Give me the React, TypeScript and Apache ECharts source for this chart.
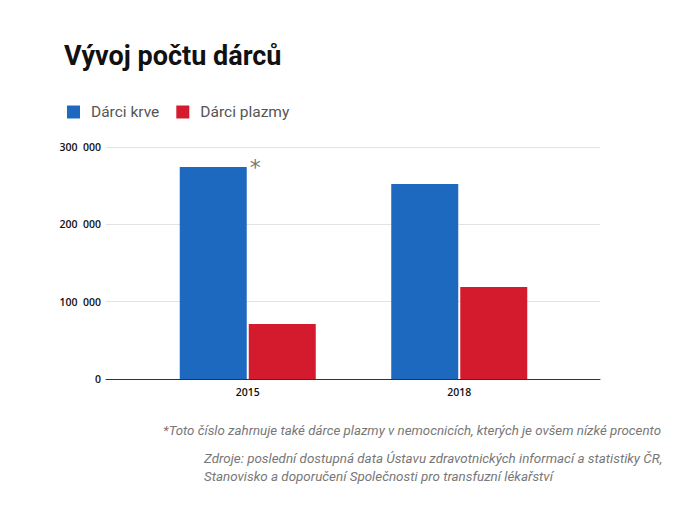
import React, { useEffect, useRef } from "react";
import * as echarts from "echarts";

const categories = ["2015", "2018"];
const seriesNames = ["Dárci krve", "Dárci plazmy"];
const krve = [274000, 252000];
const plazmy = [71000, 119000];
const yTicks = [0, 100000, 200000, 300000];
const titleText = "Vývoj počtu dárců";
const footnote = "*Toto číslo zahrnuje také dárce plazmy v nemocnicích, kterých je ovšem nízké procento";
const sources = [
  "Zdroje: poslední dostupná data Ústavu zdravotnických informací a statistiky ČR,",
  "Stanovisko a doporučení Společnosti pro transfuzní lékařství",
];

const BLUE = "#1d69c0";
const RED = "#d41b2d";

export default function App() {
  const ref = useRef<HTMLDivElement>(null);
  useEffect(() => {
    document.body.style.margin = "0";
    const chart = echarts.init(ref.current!, undefined, { renderer: "svg" });
    const fmt = (v: number) =>
      v === 0 ? "0" : String(v).replace(/\B(?=(\d{3})+(?!\d))/g, "  ");
    chart.setOption({
      animation: false,
      backgroundColor: "#ffffff",
      title: {
        text: titleText,
        left: 59,
        top: 37,
        textStyle: {
          fontFamily: "Roboto",
          fontWeight: "bold",
          fontSize: 27,
          color: "#111111",
        },
      },
      legend: {
        left: 62,
        top: 99,
        itemWidth: 13,
        itemHeight: 13,
        itemGap: 17,
        icon: "rect",
        data: seriesNames,
        textStyle: { fontFamily: "Roboto", fontSize: 15.5, color: "#555555", padding: [0, 0, 0, 6] },
      },
      grid: [
        { left: 106, right: 82, top: 147, bottom: 133 },
        { left: 142, right: 117, top: 147, bottom: 133 },
      ],
      xAxis: [
        {
          gridIndex: 0,
          type: "category",
          data: categories,
          axisLine: { show: true, lineStyle: { color: "#333333", width: 1 } },
          axisTick: { show: false },
          axisLabel: { show: false },
        },
        {
          gridIndex: 1,
          type: "category",
          data: categories,
          axisLine: { show: false },
          axisTick: { show: false },
          axisLabel: {
            fontFamily: "Open Sans",
            fontWeight: 600,
            fontSize: 10.5,
            color: "#111111",
            margin: 7,
          },
        },
      ],
      yAxis: [
        {
          gridIndex: 0,
          type: "value",
          min: yTicks[0],
          max: yTicks[yTicks.length - 1],
          interval: yTicks[1] - yTicks[0],
          axisLine: { show: false },
          axisTick: { show: false },
          splitLine: { lineStyle: { color: "#e3e3e3" } },
          axisLabel: {
            formatter: fmt,
            fontFamily: "Open Sans",
            fontWeight: 600,
            fontSize: 10.5,
            color: "#111111",
            margin: 5,
          },
        },
        {
          gridIndex: 1,
          type: "value",
          min: yTicks[0],
          max: yTicks[yTicks.length - 1],
          interval: yTicks[1] - yTicks[0],
          show: false,
          splitLine: { show: false },
        },
      ],
      series: [
        {
          name: seriesNames[0],
          type: "bar",
          xAxisIndex: 1,
          yAxisIndex: 1,
          barWidth: 67,
          barGap: "3%",
          itemStyle: { color: BLUE },
          data: krve.map((v, i) =>
            i === 0
              ? {
                  value: v,
                  label: {
                    show: true,
                    formatter: "*",
                    position: [70, -11],
                    fontFamily: "DejaVu Sans",
                    fontSize: 22,
                    color: "#777777",
                  },
                }
              : v
          ),
        },
        {
          name: seriesNames[1],
          type: "bar",
          xAxisIndex: 1,
          yAxisIndex: 1,
          barWidth: 67,
          barGap: "3%",
          itemStyle: { color: RED },
          data: plazmy,
        },
      ],
      graphic: [
        {
          type: "text",
          right: 21,
          top: 424,
          style: {
            text: footnote,
            fontFamily: "Roboto",
            fontStyle: "italic",
            fontSize: 13.3,
            fill: "#777777",
          },
        },
        {
          type: "text",
          left: 204,
          top: 449,
          style: {
            text: sources.join("\n"),
            fontFamily: "Roboto",
            fontStyle: "italic",
            fontSize: 13.4,
            lineHeight: 18,
            fill: "#777777",
          },
        },
      ],
    });
    return () => chart.dispose();
  }, []);
  return <div ref={ref} style={{ width: 682, height: 512 }} />;
}
